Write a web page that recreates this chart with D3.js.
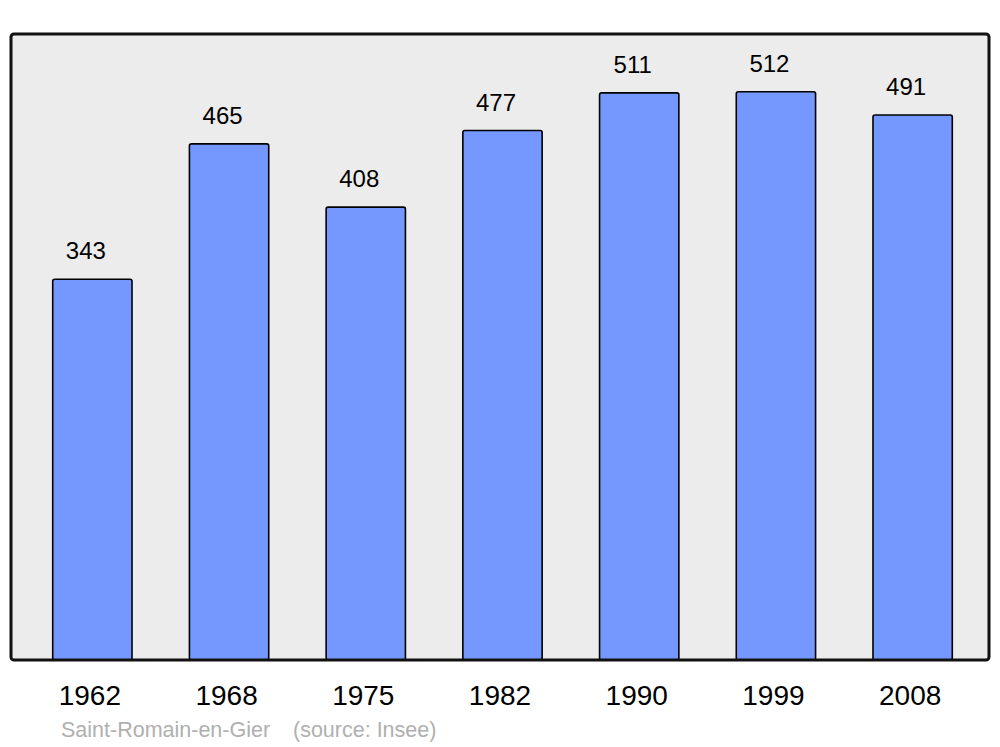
<!DOCTYPE html>
<html>
<head>
<meta charset="utf-8">
<script src="https://cdn.jsdelivr.net/npm/d3@7"></script>
<style>
  body { margin: 0; background: #fff; }
</style>
</head>
<body>
<div id="chart"></div>
<script>
var years = ["1962", "1968", "1975", "1982", "1990", "1999", "2008"];
var population = [343, 465, 408, 477, 511, 512, 491];
var commune = "Saint-Romain-en-Gier";
var source = "(source: Insee)";

var w = 1000;
var h = 747;
var frame = { left: 11, top: 34, right: 989, bottom: 660 };

var svg = d3.select("#chart")
    .append("svg")
    .attr("width", w)
    .attr("height", h);

// plot background
svg.append("rect")
    .attr("x", frame.left)
    .attr("y", frame.top)
    .attr("width", frame.right - frame.left)
    .attr("height", frame.bottom - frame.top)
    .attr("rx", 3)
    .attr("fill", "#ececec");

var xScale = d3.scaleBand()
    .domain(years)
    .range([24, 981])
    .paddingInner(0.42)
    .paddingOuter(0.21);

var yScale = d3.scaleLinear()
    .domain([0, 564])
    .range([frame.bottom, frame.top]);

// bars
svg.selectAll("rect.bar")
    .data(population)
    .enter()
    .append("rect")
    .attr("class", "bar")
    .attr("x", function (d, i) { return xScale(years[i]); })
    .attr("y", function (d) { return yScale(d); })
    .attr("width", xScale.bandwidth())
    .attr("height", function (d) { return yScale(0) - yScale(d); })
    .attr("rx", 2)
    .attr("fill", "#7498ff")
    .attr("stroke", "#000")
    .attr("stroke-width", 1.6);

// value labels (sit a little left of the bar centre)
svg.selectAll("text.value")
    .data(population)
    .enter()
    .append("text")
    .attr("class", "value")
    .attr("x", function (d, i) { return xScale(years[i]) + xScale.bandwidth() / 2 - 6.5; })
    .attr("y", function (d) { return yScale(d) - 20; })
    .attr("text-anchor", "middle")
    .attr("font-family", "Liberation Sans, Arial, sans-serif")
    .attr("font-size", "24px")
    .attr("fill", "#000")
    .text(function (d) { return d; });

// frame border on top
svg.append("rect")
    .attr("x", frame.left)
    .attr("y", frame.top)
    .attr("width", frame.right - frame.left)
    .attr("height", frame.bottom - frame.top)
    .attr("rx", 3)
    .attr("fill", "none")
    .attr("stroke", "#111")
    .attr("stroke-width", 3);

// x axis labels
var xAxis = d3.axisBottom(xScale).tickSize(0).tickPadding(0);
var gx = svg.append("g")
    .attr("transform", "translate(0," + frame.bottom + ")")
    .call(xAxis);
gx.select(".domain").remove();
gx.selectAll("text")
    .attr("y", 45)
    .attr("x", -2.5)
    .attr("dy", null)
    .attr("font-family", "Liberation Sans, Arial, sans-serif")
    .attr("font-size", "28px")
    .attr("fill", "#000");

// source line
svg.append("text")
    .attr("x", 61)
    .attr("y", 737)
    .attr("font-family", "Liberation Sans, Arial, sans-serif")
    .attr("font-size", "21.5px")
    .attr("fill", "#b0b0b0")
    .text(commune);
svg.append("text")
    .attr("x", 293)
    .attr("y", 737)
    .attr("font-family", "Liberation Sans, Arial, sans-serif")
    .attr("font-size", "21.5px")
    .attr("fill", "#b0b0b0")
    .text(source);
</script>
</body>
</html>
